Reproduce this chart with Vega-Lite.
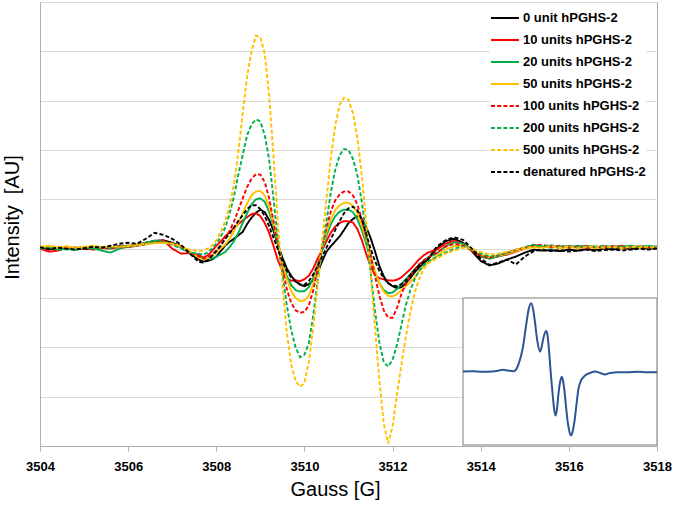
{
"$schema":"https://vega.github.io/schema/vega-lite/v6.json",
"width":617,"height":444,
"autosize":{"type":"none"},
"padding":{"left":40,"top":2,"right":18,"bottom":65},
"config":{"view":{"stroke":"#b0b0b0","strokeWidth":1},"font":"Liberation Sans"},
"datasets":{
"names":[{"s":"a","name":"0 unit hPGHS-2"},{"s":"b","name":"10 units hPGHS-2"},{"s":"c","name":"20 units hPGHS-2"},{"s":"d","name":"50 units hPGHS-2"},{"s":"e","name":"100 units hPGHS-2"},{"s":"f","name":"200 units hPGHS-2"},{"s":"g","name":"500 units hPGHS-2"},{"s":"h","name":"denatured hPGHS-2"}],
"box":[{"x0":0,"x1":100,"y0":-1,"y1":1}],
"inset":[{"ix":0,"iv":0},{"ix":5,"iv":0.005},{"ix":10,"iv":-0.005},{"ix":15,"iv":0},{"ix":18,"iv":0.01},{"ix":20.8,"iv":0.023},{"ix":23,"iv":0.015},{"ix":26,"iv":0.005},{"ix":27.5,"iv":0.03},{"ix":28.6,"iv":0.1},{"ix":30,"iv":0.22},{"ix":31.2,"iv":0.38},{"ix":32,"iv":0.53},{"ix":32.8,"iv":0.68},{"ix":33.8,"iv":0.84},{"ix":35.1,"iv":0.93},{"ix":36.2,"iv":0.84},{"ix":37.1,"iv":0.67},{"ix":38.3,"iv":0.42},{"ix":39.7,"iv":0.27},{"ix":40.5,"iv":0.33},{"ix":41.4,"iv":0.45},{"ix":42.8,"iv":0.55},{"ix":43.5,"iv":0.5},{"ix":44,"iv":0.39},{"ix":44.6,"iv":0.2},{"ix":45.2,"iv":-0.01},{"ix":46,"iv":-0.25},{"ix":46.6,"iv":-0.42},{"ix":47.2,"iv":-0.55},{"ix":47.8,"iv":-0.6},{"ix":48.5,"iv":-0.5},{"ix":49.1,"iv":-0.33},{"ix":50,"iv":-0.15},{"ix":50.9,"iv":-0.07},{"ix":51.6,"iv":-0.13},{"ix":52.2,"iv":-0.24},{"ix":53,"iv":-0.45},{"ix":53.8,"iv":-0.65},{"ix":54.7,"iv":-0.8},{"ix":55.7,"iv":-0.87},{"ix":56.5,"iv":-0.82},{"ix":57.4,"iv":-0.69},{"ix":58.4,"iv":-0.47},{"ix":59.5,"iv":-0.24},{"ix":60.7,"iv":-0.13},{"ix":62,"iv":-0.08},{"ix":63.7,"iv":-0.04},{"ix":65.5,"iv":-0.02},{"ix":68.1,"iv":0},{"ix":70.7,"iv":-0.02},{"ix":73.2,"iv":-0.04},{"ix":75.8,"iv":-0.02},{"ix":80,"iv":-0.01},{"ix":84.4,"iv":-0.01},{"ix":90,"iv":-0.005},{"ix":95,"iv":-0.01},{"ix":100,"iv":-0.01}],
"spec":[
{"x":3504,"s":"a","v":0.02},{"x":3504.2,"s":"a","v":0},{"x":3504.4,"s":"a","v":-0.03},{"x":3504.6,"s":"a","v":0.01},{"x":3504.8,"s":"a","v":0.02},{"x":3505,"s":"a","v":-0.01},{"x":3505.2,"s":"a","v":0},{"x":3505.4,"s":"a","v":0.03},{"x":3505.6,"s":"a","v":0.02},{"x":3505.8,"s":"a","v":0.05},{"x":3506,"s":"a","v":0.06},{"x":3506.2,"s":"a","v":0.08},{"x":3506.4,"s":"a","v":0.12},{"x":3506.6,"s":"a","v":0.16},{"x":3506.8,"s":"a","v":0.17},{"x":3507,"s":"a","v":0.12},{"x":3507.2,"s":"a","v":0.05},{"x":3507.4,"s":"a","v":-0.1},
{"x":3507.6,"s":"a","v":-0.22},{"x":3507.7,"s":"a","v":-0.26},{"x":3507.8,"s":"a","v":-0.25},{"x":3507.9,"s":"a","v":-0.22},{"x":3508,"s":"a","v":-0.16},{"x":3508.1,"s":"a","v":-0.05},{"x":3508.2,"s":"a","v":0.06},{"x":3508.3,"s":"a","v":0.14},{"x":3508.4,"s":"a","v":0.2},{"x":3508.5,"s":"a","v":0.27},{"x":3508.6,"s":"a","v":0.34},{"x":3508.7,"s":"a","v":0.5},{"x":3508.8,"s":"a","v":0.63},{"x":3508.9,"s":"a","v":0.73},{"x":3509,"s":"a","v":0.79},{"x":3509.1,"s":"a","v":0.74},{"x":3509.2,"s":"a","v":0.58},{"x":3509.3,"s":"a","v":0.36},{"x":3509.4,"s":"a","v":0.08},{"x":3509.5,"s":"a","v":-0.18},{"x":3509.6,"s":"a","v":-0.4},{"x":3509.7,"s":"a","v":-0.55},{"x":3509.8,"s":"a","v":-0.66},{"x":3509.9,"s":"a","v":-0.73},{"x":3510,"s":"a","v":-0.76},{"x":3510.1,"s":"a","v":-0.72},{"x":3510.2,"s":"a","v":-0.64},{"x":3510.3,"s":"a","v":-0.48},{"x":3510.4,"s":"a","v":-0.26},{"x":3510.5,"s":"a","v":-0.06},{"x":3510.6,"s":"a","v":0.05},{"x":3510.7,"s":"a","v":0.15},{"x":3510.8,"s":"a","v":0.25},{"x":3510.9,"s":"a","v":0.38},{"x":3511,"s":"a","v":0.52},{"x":3511.1,"s":"a","v":0.6},{"x":3511.2,"s":"a","v":0.66},{"x":3511.3,"s":"a","v":0.6},{"x":3511.4,"s":"a","v":0.44},{"x":3511.5,"s":"a","v":0.22},{"x":3511.6,"s":"a","v":-0.05},{"x":3511.7,"s":"a","v":-0.35},{"x":3511.8,"s":"a","v":-0.56},{"x":3511.9,"s":"a","v":-0.7},{"x":3512,"s":"a","v":-0.76},{"x":3512.1,"s":"a","v":-0.8},{"x":3512.2,"s":"a","v":-0.78},{"x":3512.3,"s":"a","v":-0.7},{"x":3512.4,"s":"a","v":-0.6},{"x":3512.5,"s":"a","v":-0.48},{"x":3512.6,"s":"a","v":-0.38},{"x":3512.7,"s":"a","v":-0.3},{"x":3512.8,"s":"a","v":-0.22},
{"x":3513,"s":"a","v":0},{"x":3513.2,"s":"a","v":0.15},{"x":3513.4,"s":"a","v":0.2},{"x":3513.6,"s":"a","v":0.12},{"x":3513.8,"s":"a","v":-0.05},{"x":3514,"s":"a","v":-0.25},{"x":3514.2,"s":"a","v":-0.34},{"x":3514.4,"s":"a","v":-0.3},{"x":3514.6,"s":"a","v":-0.22},{"x":3514.8,"s":"a","v":-0.16},{"x":3515,"s":"a","v":-0.08},{"x":3515.2,"s":"a","v":-0.02},{"x":3515.4,"s":"a","v":-0.04},{"x":3515.6,"s":"a","v":-0.03},{"x":3515.8,"s":"a","v":-0.05},{"x":3516,"s":"a","v":-0.02},{"x":3516.2,"s":"a","v":-0.04},{"x":3516.4,"s":"a","v":-0.01},{"x":3516.6,"s":"a","v":-0.03},{"x":3516.8,"s":"a","v":0},{"x":3517,"s":"a","v":-0.02},{"x":3517.2,"s":"a","v":0.01},{"x":3517.4,"s":"a","v":-0.01},{"x":3517.6,"s":"a","v":0.02},{"x":3517.8,"s":"a","v":0},{"x":3518,"s":"a","v":0.01},
{"x":3504,"s":"b","v":0},{"x":3504.2,"s":"b","v":-0.06},{"x":3504.4,"s":"b","v":-0.04},{"x":3504.6,"s":"b","v":0.02},{"x":3504.8,"s":"b","v":0},{"x":3505,"s":"b","v":0.03},{"x":3505.2,"s":"b","v":-0.02},{"x":3505.4,"s":"b","v":0.01},{"x":3505.6,"s":"b","v":0},{"x":3505.8,"s":"b","v":0.04},{"x":3506,"s":"b","v":0.03},{"x":3506.2,"s":"b","v":0.06},{"x":3506.4,"s":"b","v":0.09},{"x":3506.6,"s":"b","v":0.13},{"x":3506.8,"s":"b","v":0.17},{"x":3507,"s":"b","v":0},{"x":3507.2,"s":"b","v":-0.1},{"x":3507.4,"s":"b","v":-0.09},
{"x":3507.6,"s":"b","v":-0.12},{"x":3507.7,"s":"b","v":-0.18},{"x":3507.8,"s":"b","v":-0.14},{"x":3507.9,"s":"b","v":-0.05},{"x":3508,"s":"b","v":0.06},{"x":3508.1,"s":"b","v":0.15},{"x":3508.2,"s":"b","v":0.25},{"x":3508.3,"s":"b","v":0.33},{"x":3508.4,"s":"b","v":0.42},{"x":3508.5,"s":"b","v":0.5},{"x":3508.6,"s":"b","v":0.57},{"x":3508.7,"s":"b","v":0.64},{"x":3508.8,"s":"b","v":0.7},{"x":3508.9,"s":"b","v":0.72},{"x":3509,"s":"b","v":0.66},{"x":3509.1,"s":"b","v":0.52},{"x":3509.2,"s":"b","v":0.32},{"x":3509.3,"s":"b","v":0.05},{"x":3509.4,"s":"b","v":-0.24},{"x":3509.5,"s":"b","v":-0.45},{"x":3509.6,"s":"b","v":-0.6},{"x":3509.7,"s":"b","v":-0.65},{"x":3509.8,"s":"b","v":-0.64},{"x":3509.9,"s":"b","v":-0.66},{"x":3510,"s":"b","v":-0.62},{"x":3510.1,"s":"b","v":-0.55},{"x":3510.2,"s":"b","v":-0.4},{"x":3510.3,"s":"b","v":-0.2},{"x":3510.4,"s":"b","v":-0.03},{"x":3510.5,"s":"b","v":0.15},{"x":3510.6,"s":"b","v":0.33},{"x":3510.7,"s":"b","v":0.45},{"x":3510.8,"s":"b","v":0.52},{"x":3510.9,"s":"b","v":0.56},{"x":3511,"s":"b","v":0.55},{"x":3511.1,"s":"b","v":0.53},{"x":3511.2,"s":"b","v":0.4},{"x":3511.3,"s":"b","v":0.18},{"x":3511.4,"s":"b","v":-0.1},{"x":3511.5,"s":"b","v":-0.35},{"x":3511.6,"s":"b","v":-0.53},{"x":3511.7,"s":"b","v":-0.6},{"x":3511.8,"s":"b","v":-0.62},{"x":3511.9,"s":"b","v":-0.64},{"x":3512,"s":"b","v":-0.65},{"x":3512.1,"s":"b","v":-0.63},{"x":3512.2,"s":"b","v":-0.58},{"x":3512.3,"s":"b","v":-0.5},{"x":3512.4,"s":"b","v":-0.42},{"x":3512.5,"s":"b","v":-0.32},{"x":3512.6,"s":"b","v":-0.22},{"x":3512.7,"s":"b","v":-0.14},{"x":3512.8,"s":"b","v":-0.08},
{"x":3513,"s":"b","v":-0.02},{"x":3513.2,"s":"b","v":0.1},{"x":3513.4,"s":"b","v":0.16},{"x":3513.6,"s":"b","v":0.1},{"x":3513.8,"s":"b","v":-0.04},{"x":3514,"s":"b","v":-0.16},{"x":3514.2,"s":"b","v":-0.2},{"x":3514.4,"s":"b","v":-0.15},{"x":3514.6,"s":"b","v":-0.12},{"x":3514.8,"s":"b","v":-0.06},{"x":3515,"s":"b","v":0},{"x":3515.2,"s":"b","v":0.08},{"x":3515.4,"s":"b","v":0.03},{"x":3515.6,"s":"b","v":0.06},{"x":3515.8,"s":"b","v":0.01},{"x":3516,"s":"b","v":0.05},{"x":3516.2,"s":"b","v":0.03},{"x":3516.4,"s":"b","v":0.06},{"x":3516.6,"s":"b","v":0.02},{"x":3516.8,"s":"b","v":0.05},{"x":3517,"s":"b","v":0.03},{"x":3517.2,"s":"b","v":0.06},{"x":3517.4,"s":"b","v":0.02},{"x":3517.6,"s":"b","v":0.05},{"x":3517.8,"s":"b","v":0.03},{"x":3518,"s":"b","v":0.04},
{"x":3504,"s":"c","v":0.01},{"x":3504.2,"s":"c","v":0.03},{"x":3504.4,"s":"c","v":-0.02},{"x":3504.6,"s":"c","v":0},{"x":3504.8,"s":"c","v":-0.03},{"x":3505,"s":"c","v":0.02},{"x":3505.2,"s":"c","v":0.01},{"x":3505.4,"s":"c","v":-0.04},{"x":3505.6,"s":"c","v":-0.08},{"x":3505.8,"s":"c","v":0},{"x":3506,"s":"c","v":0.04},{"x":3506.2,"s":"c","v":0.07},{"x":3506.4,"s":"c","v":0.12},{"x":3506.6,"s":"c","v":0.16},{"x":3506.8,"s":"c","v":0.14},{"x":3507,"s":"c","v":0.1},{"x":3507.2,"s":"c","v":0.03},{"x":3507.4,"s":"c","v":-0.08},
{"x":3507.6,"s":"c","v":-0.15},{"x":3507.7,"s":"c","v":-0.2},{"x":3507.8,"s":"c","v":-0.22},{"x":3507.9,"s":"c","v":-0.2},{"x":3508,"s":"c","v":-0.16},{"x":3508.1,"s":"c","v":-0.12},{"x":3508.2,"s":"c","v":-0.07},{"x":3508.3,"s":"c","v":0.03},{"x":3508.4,"s":"c","v":0.15},{"x":3508.5,"s":"c","v":0.32},{"x":3508.6,"s":"c","v":0.52},{"x":3508.7,"s":"c","v":0.72},{"x":3508.8,"s":"c","v":0.9},{"x":3508.9,"s":"c","v":1},{"x":3509,"s":"c","v":1.02},{"x":3509.1,"s":"c","v":0.95},{"x":3509.2,"s":"c","v":0.75},{"x":3509.3,"s":"c","v":0.45},{"x":3509.4,"s":"c","v":0.08},{"x":3509.5,"s":"c","v":-0.28},{"x":3509.6,"s":"c","v":-0.55},{"x":3509.7,"s":"c","v":-0.74},{"x":3509.8,"s":"c","v":-0.84},{"x":3509.9,"s":"c","v":-0.87},{"x":3510,"s":"c","v":-0.86},{"x":3510.1,"s":"c","v":-0.78},{"x":3510.2,"s":"c","v":-0.6},{"x":3510.3,"s":"c","v":-0.32},{"x":3510.4,"s":"c","v":-0.02},{"x":3510.5,"s":"c","v":0.26},{"x":3510.6,"s":"c","v":0.5},{"x":3510.7,"s":"c","v":0.66},{"x":3510.8,"s":"c","v":0.75},{"x":3510.9,"s":"c","v":0.79},{"x":3511,"s":"c","v":0.79},{"x":3511.1,"s":"c","v":0.74},{"x":3511.2,"s":"c","v":0.6},{"x":3511.3,"s":"c","v":0.38},{"x":3511.4,"s":"c","v":0.1},{"x":3511.5,"s":"c","v":-0.2},{"x":3511.6,"s":"c","v":-0.48},{"x":3511.7,"s":"c","v":-0.7},{"x":3511.8,"s":"c","v":-0.84},{"x":3511.9,"s":"c","v":-0.9},{"x":3512,"s":"c","v":-0.89},{"x":3512.1,"s":"c","v":-0.82},{"x":3512.2,"s":"c","v":-0.72},{"x":3512.3,"s":"c","v":-0.62},{"x":3512.4,"s":"c","v":-0.52},{"x":3512.5,"s":"c","v":-0.42},{"x":3512.6,"s":"c","v":-0.33},{"x":3512.7,"s":"c","v":-0.25},{"x":3512.8,"s":"c","v":-0.18},
{"x":3513,"s":"c","v":-0.1},{"x":3513.2,"s":"c","v":0.05},{"x":3513.4,"s":"c","v":0.13},{"x":3513.6,"s":"c","v":0.1},{"x":3513.8,"s":"c","v":-0.02},{"x":3514,"s":"c","v":-0.15},{"x":3514.2,"s":"c","v":-0.2},{"x":3514.4,"s":"c","v":-0.16},{"x":3514.6,"s":"c","v":-0.1},{"x":3514.8,"s":"c","v":-0.05},{"x":3515,"s":"c","v":0.02},{"x":3515.2,"s":"c","v":0.07},{"x":3515.4,"s":"c","v":0.04},{"x":3515.6,"s":"c","v":0.02},{"x":3515.8,"s":"c","v":0.05},{"x":3516,"s":"c","v":0.02},{"x":3516.2,"s":"c","v":0.06},{"x":3516.4,"s":"c","v":0.03},{"x":3516.6,"s":"c","v":0.05},{"x":3516.8,"s":"c","v":0.02},{"x":3517,"s":"c","v":0.05},{"x":3517.2,"s":"c","v":0.03},{"x":3517.4,"s":"c","v":0.06},{"x":3517.6,"s":"c","v":0.03},{"x":3517.8,"s":"c","v":0.05},{"x":3518,"s":"c","v":0.04},
{"x":3504,"s":"d","v":0.03},{"x":3504.2,"s":"d","v":0.05},{"x":3504.4,"s":"d","v":0.02},{"x":3504.6,"s":"d","v":0.04},{"x":3504.8,"s":"d","v":0.01},{"x":3505,"s":"d","v":0.03},{"x":3505.2,"s":"d","v":0.05},{"x":3505.4,"s":"d","v":0.02},{"x":3505.6,"s":"d","v":0.04},{"x":3505.8,"s":"d","v":0.03},{"x":3506,"s":"d","v":0.06},{"x":3506.2,"s":"d","v":0.08},{"x":3506.4,"s":"d","v":0.1},{"x":3506.6,"s":"d","v":0.12},{"x":3506.8,"s":"d","v":0.12},{"x":3507,"s":"d","v":0.1},{"x":3507.2,"s":"d","v":0.04},{"x":3507.4,"s":"d","v":-0.06},
{"x":3507.6,"s":"d","v":-0.18},{"x":3507.7,"s":"d","v":-0.22},{"x":3507.8,"s":"d","v":-0.2},{"x":3507.9,"s":"d","v":-0.15},{"x":3508,"s":"d","v":-0.08},{"x":3508.1,"s":"d","v":0},{"x":3508.2,"s":"d","v":0.08},{"x":3508.3,"s":"d","v":0.2},{"x":3508.4,"s":"d","v":0.35},{"x":3508.5,"s":"d","v":0.52},{"x":3508.6,"s":"d","v":0.72},{"x":3508.7,"s":"d","v":0.92},{"x":3508.8,"s":"d","v":1.08},{"x":3508.9,"s":"d","v":1.16},{"x":3509,"s":"d","v":1.17},{"x":3509.1,"s":"d","v":1.08},{"x":3509.2,"s":"d","v":0.85},{"x":3509.3,"s":"d","v":0.5},{"x":3509.4,"s":"d","v":0.1},{"x":3509.5,"s":"d","v":-0.3},{"x":3509.6,"s":"d","v":-0.62},{"x":3509.7,"s":"d","v":-0.86},{"x":3509.8,"s":"d","v":-1},{"x":3509.9,"s":"d","v":-1.06},{"x":3510,"s":"d","v":-1.05},{"x":3510.1,"s":"d","v":-0.95},{"x":3510.2,"s":"d","v":-0.72},{"x":3510.3,"s":"d","v":-0.38},{"x":3510.4,"s":"d","v":0},{"x":3510.5,"s":"d","v":0.33},{"x":3510.6,"s":"d","v":0.6},{"x":3510.7,"s":"d","v":0.78},{"x":3510.8,"s":"d","v":0.88},{"x":3510.9,"s":"d","v":0.93},{"x":3511,"s":"d","v":0.93},{"x":3511.1,"s":"d","v":0.87},{"x":3511.2,"s":"d","v":0.72},{"x":3511.3,"s":"d","v":0.48},{"x":3511.4,"s":"d","v":0.18},{"x":3511.5,"s":"d","v":-0.15},{"x":3511.6,"s":"d","v":-0.45},{"x":3511.7,"s":"d","v":-0.7},{"x":3511.8,"s":"d","v":-0.87},{"x":3511.9,"s":"d","v":-0.96},{"x":3512,"s":"d","v":-0.97},{"x":3512.1,"s":"d","v":-0.92},{"x":3512.2,"s":"d","v":-0.84},{"x":3512.3,"s":"d","v":-0.76},{"x":3512.4,"s":"d","v":-0.68},{"x":3512.5,"s":"d","v":-0.58},{"x":3512.6,"s":"d","v":-0.46},{"x":3512.7,"s":"d","v":-0.36},{"x":3512.8,"s":"d","v":-0.28},
{"x":3513,"s":"d","v":-0.15},{"x":3513.2,"s":"d","v":-0.02},{"x":3513.4,"s":"d","v":0.05},{"x":3513.6,"s":"d","v":0.06},{"x":3513.8,"s":"d","v":-0.02},{"x":3514,"s":"d","v":-0.12},{"x":3514.2,"s":"d","v":-0.17},{"x":3514.4,"s":"d","v":-0.14},{"x":3514.6,"s":"d","v":-0.1},{"x":3514.8,"s":"d","v":-0.05},{"x":3515,"s":"d","v":0},{"x":3515.2,"s":"d","v":0.03},{"x":3515.4,"s":"d","v":0.02},{"x":3515.6,"s":"d","v":0.04},{"x":3515.8,"s":"d","v":0.01},{"x":3516,"s":"d","v":0.03},{"x":3516.2,"s":"d","v":0.02},{"x":3516.4,"s":"d","v":0.04},{"x":3516.6,"s":"d","v":0.01},{"x":3516.8,"s":"d","v":0.03},{"x":3517,"s":"d","v":0.04},{"x":3517.2,"s":"d","v":0.02},{"x":3517.4,"s":"d","v":0.03},{"x":3517.6,"s":"d","v":0.05},{"x":3517.8,"s":"d","v":0.02},{"x":3518,"s":"d","v":0.03},
{"x":3504,"s":"e","v":0.01},{"x":3504.2,"s":"e","v":-0.02},{"x":3504.4,"s":"e","v":0.03},{"x":3504.6,"s":"e","v":0},{"x":3504.8,"s":"e","v":0.02},{"x":3505,"s":"e","v":0},{"x":3505.2,"s":"e","v":0.03},{"x":3505.4,"s":"e","v":0.01},{"x":3505.6,"s":"e","v":0.03},{"x":3505.8,"s":"e","v":0.02},{"x":3506,"s":"e","v":0.05},{"x":3506.2,"s":"e","v":0.07},{"x":3506.4,"s":"e","v":0.1},{"x":3506.6,"s":"e","v":0.13},{"x":3506.8,"s":"e","v":0.14},{"x":3507,"s":"e","v":0.1},{"x":3507.2,"s":"e","v":0.02},{"x":3507.4,"s":"e","v":-0.08},
{"x":3507.6,"s":"e","v":-0.15},{"x":3507.7,"s":"e","v":-0.2},{"x":3507.8,"s":"e","v":-0.18},{"x":3507.9,"s":"e","v":-0.12},{"x":3508,"s":"e","v":-0.04},{"x":3508.1,"s":"e","v":0.07},{"x":3508.2,"s":"e","v":0.19},{"x":3508.3,"s":"e","v":0.36},{"x":3508.4,"s":"e","v":0.55},{"x":3508.5,"s":"e","v":0.78},{"x":3508.6,"s":"e","v":1.02},{"x":3508.7,"s":"e","v":1.25},{"x":3508.8,"s":"e","v":1.42},{"x":3508.9,"s":"e","v":1.51},{"x":3509,"s":"e","v":1.5},{"x":3509.1,"s":"e","v":1.35},{"x":3509.2,"s":"e","v":1.02},{"x":3509.3,"s":"e","v":0.55},{"x":3509.4,"s":"e","v":0.05},{"x":3509.5,"s":"e","v":-0.42},{"x":3509.6,"s":"e","v":-0.82},{"x":3509.7,"s":"e","v":-1.1},{"x":3509.8,"s":"e","v":-1.25},{"x":3509.9,"s":"e","v":-1.3},{"x":3510,"s":"e","v":-1.28},{"x":3510.1,"s":"e","v":-1.15},{"x":3510.2,"s":"e","v":-0.85},{"x":3510.3,"s":"e","v":-0.42},{"x":3510.4,"s":"e","v":0.02},{"x":3510.5,"s":"e","v":0.42},{"x":3510.6,"s":"e","v":0.76},{"x":3510.7,"s":"e","v":0.98},{"x":3510.8,"s":"e","v":1.1},{"x":3510.9,"s":"e","v":1.16},{"x":3511,"s":"e","v":1.16},{"x":3511.1,"s":"e","v":1.08},{"x":3511.2,"s":"e","v":0.9},{"x":3511.3,"s":"e","v":0.6},{"x":3511.4,"s":"e","v":0.25},{"x":3511.5,"s":"e","v":-0.12},{"x":3511.6,"s":"e","v":-0.55},{"x":3511.7,"s":"e","v":-0.95},{"x":3511.8,"s":"e","v":-1.25},{"x":3511.9,"s":"e","v":-1.4},{"x":3512,"s":"e","v":-1.4},{"x":3512.1,"s":"e","v":-1.2},{"x":3512.2,"s":"e","v":-0.92},{"x":3512.3,"s":"e","v":-0.72},{"x":3512.4,"s":"e","v":-0.56},{"x":3512.5,"s":"e","v":-0.43},{"x":3512.6,"s":"e","v":-0.32},{"x":3512.7,"s":"e","v":-0.24},{"x":3512.8,"s":"e","v":-0.18},
{"x":3513,"s":"e","v":-0.08},{"x":3513.2,"s":"e","v":0.04},{"x":3513.4,"s":"e","v":0.1},{"x":3513.6,"s":"e","v":0.06},{"x":3513.8,"s":"e","v":-0.04},{"x":3514,"s":"e","v":-0.14},{"x":3514.2,"s":"e","v":-0.18},{"x":3514.4,"s":"e","v":-0.14},{"x":3514.6,"s":"e","v":-0.08},{"x":3514.8,"s":"e","v":-0.03},{"x":3515,"s":"e","v":0.02},{"x":3515.2,"s":"e","v":0.06},{"x":3515.4,"s":"e","v":0.08},{"x":3515.6,"s":"e","v":0.03},{"x":3515.8,"s":"e","v":0.06},{"x":3516,"s":"e","v":0.02},{"x":3516.2,"s":"e","v":0.04},{"x":3516.4,"s":"e","v":0.01},{"x":3516.6,"s":"e","v":0.04},{"x":3516.8,"s":"e","v":0.02},{"x":3517,"s":"e","v":0.05},{"x":3517.2,"s":"e","v":0.02},{"x":3517.4,"s":"e","v":0.04},{"x":3517.6,"s":"e","v":0.01},{"x":3517.8,"s":"e","v":0.03},{"x":3518,"s":"e","v":0.02},
{"x":3504,"s":"f","v":0},{"x":3504.2,"s":"f","v":0.02},{"x":3504.4,"s":"f","v":0.01},{"x":3504.6,"s":"f","v":-0.02},{"x":3504.8,"s":"f","v":0.01},{"x":3505,"s":"f","v":0.03},{"x":3505.2,"s":"f","v":0},{"x":3505.4,"s":"f","v":0.02},{"x":3505.6,"s":"f","v":0.01},{"x":3505.8,"s":"f","v":0.04},{"x":3506,"s":"f","v":0.05},{"x":3506.2,"s":"f","v":0.06},{"x":3506.4,"s":"f","v":0.1},{"x":3506.6,"s":"f","v":0.13},{"x":3506.8,"s":"f","v":0.13},{"x":3507,"s":"f","v":0.08},{"x":3507.2,"s":"f","v":0},{"x":3507.4,"s":"f","v":-0.08},
{"x":3507.6,"s":"f","v":-0.1},{"x":3507.7,"s":"f","v":-0.12},{"x":3507.8,"s":"f","v":-0.08},{"x":3507.9,"s":"f","v":0},{"x":3508,"s":"f","v":0.1},{"x":3508.1,"s":"f","v":0.24},{"x":3508.2,"s":"f","v":0.42},{"x":3508.3,"s":"f","v":0.7},{"x":3508.4,"s":"f","v":1.05},{"x":3508.5,"s":"f","v":1.5},{"x":3508.6,"s":"f","v":1.9},{"x":3508.7,"s":"f","v":2.3},{"x":3508.8,"s":"f","v":2.52},{"x":3508.9,"s":"f","v":2.62},{"x":3509,"s":"f","v":2.58},{"x":3509.1,"s":"f","v":2.3},{"x":3509.2,"s":"f","v":1.8},{"x":3509.3,"s":"f","v":1},{"x":3509.4,"s":"f","v":0.15},{"x":3509.5,"s":"f","v":-0.5},{"x":3509.6,"s":"f","v":-1.15},{"x":3509.7,"s":"f","v":-1.65},{"x":3509.8,"s":"f","v":-2},{"x":3509.9,"s":"f","v":-2.2},{"x":3510,"s":"f","v":-2.15},{"x":3510.1,"s":"f","v":-1.92},{"x":3510.2,"s":"f","v":-1.35},{"x":3510.3,"s":"f","v":-0.65},{"x":3510.4,"s":"f","v":-0.05},{"x":3510.5,"s":"f","v":0.55},{"x":3510.6,"s":"f","v":1.15},{"x":3510.7,"s":"f","v":1.6},{"x":3510.8,"s":"f","v":1.9},{"x":3510.9,"s":"f","v":2.02},{"x":3511,"s":"f","v":2},{"x":3511.1,"s":"f","v":1.82},{"x":3511.2,"s":"f","v":1.5},{"x":3511.3,"s":"f","v":0.96},{"x":3511.4,"s":"f","v":0.3},{"x":3511.5,"s":"f","v":-0.45},{"x":3511.6,"s":"f","v":-1.25},{"x":3511.7,"s":"f","v":-1.9},{"x":3511.8,"s":"f","v":-2.3},{"x":3511.9,"s":"f","v":-2.39},{"x":3512,"s":"f","v":-2.25},{"x":3512.1,"s":"f","v":-1.95},{"x":3512.2,"s":"f","v":-1.55},{"x":3512.3,"s":"f","v":-1.15},{"x":3512.4,"s":"f","v":-0.85},{"x":3512.5,"s":"f","v":-0.62},{"x":3512.6,"s":"f","v":-0.46},{"x":3512.7,"s":"f","v":-0.34},{"x":3512.8,"s":"f","v":-0.26},
{"x":3513,"s":"f","v":-0.17},{"x":3513.2,"s":"f","v":-0.08},{"x":3513.4,"s":"f","v":0},{"x":3513.6,"s":"f","v":0.04},{"x":3513.8,"s":"f","v":-0.02},{"x":3514,"s":"f","v":-0.1},{"x":3514.2,"s":"f","v":-0.16},{"x":3514.4,"s":"f","v":-0.13},{"x":3514.6,"s":"f","v":-0.08},{"x":3514.8,"s":"f","v":-0.02},{"x":3515,"s":"f","v":0.03},{"x":3515.2,"s":"f","v":0.08},{"x":3515.4,"s":"f","v":0.05},{"x":3515.6,"s":"f","v":0.07},{"x":3515.8,"s":"f","v":0.03},{"x":3516,"s":"f","v":0.06},{"x":3516.2,"s":"f","v":0.02},{"x":3516.4,"s":"f","v":0.05},{"x":3516.6,"s":"f","v":0.03},{"x":3516.8,"s":"f","v":0.06},{"x":3517,"s":"f","v":0.02},{"x":3517.2,"s":"f","v":0.05},{"x":3517.4,"s":"f","v":0.03},{"x":3517.6,"s":"f","v":0.04},{"x":3517.8,"s":"f","v":0.06},{"x":3518,"s":"f","v":0.03},
{"x":3504,"s":"g","v":0.04},{"x":3504.2,"s":"g","v":0.06},{"x":3504.4,"s":"g","v":0.03},{"x":3504.6,"s":"g","v":0.05},{"x":3504.8,"s":"g","v":0.02},{"x":3505,"s":"g","v":0.04},{"x":3505.2,"s":"g","v":0.06},{"x":3505.4,"s":"g","v":0.03},{"x":3505.6,"s":"g","v":0.05},{"x":3505.8,"s":"g","v":0.04},{"x":3506,"s":"g","v":0.05},{"x":3506.2,"s":"g","v":0.07},{"x":3506.4,"s":"g","v":0.09},{"x":3506.6,"s":"g","v":0.11},{"x":3506.8,"s":"g","v":0.12},{"x":3507,"s":"g","v":0.1},{"x":3507.2,"s":"g","v":0.05},{"x":3507.4,"s":"g","v":-0.02},
{"x":3507.6,"s":"g","v":-0.05},{"x":3507.7,"s":"g","v":-0.04},{"x":3507.8,"s":"g","v":0},{"x":3507.9,"s":"g","v":0.06},{"x":3508,"s":"g","v":0.17},{"x":3508.1,"s":"g","v":0.33},{"x":3508.2,"s":"g","v":0.55},{"x":3508.3,"s":"g","v":0.85},{"x":3508.4,"s":"g","v":1.3},{"x":3508.5,"s":"g","v":1.95},{"x":3508.6,"s":"g","v":2.75},{"x":3508.7,"s":"g","v":3.5},{"x":3508.8,"s":"g","v":4},{"x":3508.9,"s":"g","v":4.32},{"x":3509,"s":"g","v":4.28},{"x":3509.1,"s":"g","v":3.95},{"x":3509.2,"s":"g","v":3.1},{"x":3509.3,"s":"g","v":1.85},{"x":3509.4,"s":"g","v":0.5},{"x":3509.5,"s":"g","v":-0.7},{"x":3509.6,"s":"g","v":-1.7},{"x":3509.7,"s":"g","v":-2.35},{"x":3509.8,"s":"g","v":-2.68},{"x":3509.9,"s":"g","v":-2.8},{"x":3510,"s":"g","v":-2.72},{"x":3510.1,"s":"g","v":-2.3},{"x":3510.2,"s":"g","v":-1.6},{"x":3510.3,"s":"g","v":-0.75},{"x":3510.4,"s":"g","v":0.15},{"x":3510.5,"s":"g","v":1},{"x":3510.6,"s":"g","v":1.85},{"x":3510.7,"s":"g","v":2.5},{"x":3510.8,"s":"g","v":2.92},{"x":3510.9,"s":"g","v":3.06},{"x":3511,"s":"g","v":3.02},{"x":3511.1,"s":"g","v":2.75},{"x":3511.2,"s":"g","v":2.25},{"x":3511.3,"s":"g","v":1.5},{"x":3511.4,"s":"g","v":0.55},{"x":3511.5,"s":"g","v":-0.45},{"x":3511.6,"s":"g","v":-1.6},{"x":3511.7,"s":"g","v":-2.65},{"x":3511.8,"s":"g","v":-3.55},{"x":3511.9,"s":"g","v":-3.95},{"x":3512,"s":"g","v":-3.6},{"x":3512.1,"s":"g","v":-2.95},{"x":3512.2,"s":"g","v":-2.35},{"x":3512.3,"s":"g","v":-1.8},{"x":3512.4,"s":"g","v":-1.3},{"x":3512.5,"s":"g","v":-0.9},{"x":3512.6,"s":"g","v":-0.62},{"x":3512.7,"s":"g","v":-0.42},{"x":3512.8,"s":"g","v":-0.3},
{"x":3513,"s":"g","v":-0.2},{"x":3513.2,"s":"g","v":-0.1},{"x":3513.4,"s":"g","v":-0.04},{"x":3513.6,"s":"g","v":0.02},{"x":3513.8,"s":"g","v":0},{"x":3514,"s":"g","v":-0.07},{"x":3514.2,"s":"g","v":-0.12},{"x":3514.4,"s":"g","v":-0.1},{"x":3514.6,"s":"g","v":-0.06},{"x":3514.8,"s":"g","v":-0.02},{"x":3515,"s":"g","v":0.02},{"x":3515.2,"s":"g","v":0.04},{"x":3515.4,"s":"g","v":0.02},{"x":3515.6,"s":"g","v":0.05},{"x":3515.8,"s":"g","v":0.02},{"x":3516,"s":"g","v":0.04},{"x":3516.2,"s":"g","v":0.01},{"x":3516.4,"s":"g","v":0.03},{"x":3516.6,"s":"g","v":0.05},{"x":3516.8,"s":"g","v":0.02},{"x":3517,"s":"g","v":0.04},{"x":3517.2,"s":"g","v":0.01},{"x":3517.4,"s":"g","v":0.04},{"x":3517.6,"s":"g","v":0.02},{"x":3517.8,"s":"g","v":0.04},{"x":3518,"s":"g","v":0.02},
{"x":3504,"s":"h","v":0.03},{"x":3504.2,"s":"h","v":-0.01},{"x":3504.4,"s":"h","v":0.02},{"x":3504.6,"s":"h","v":0},{"x":3504.8,"s":"h","v":-0.02},{"x":3505,"s":"h","v":0.01},{"x":3505.2,"s":"h","v":0.04},{"x":3505.4,"s":"h","v":0.02},{"x":3505.6,"s":"h","v":0.06},{"x":3505.8,"s":"h","v":0.1},{"x":3506,"s":"h","v":0.12},{"x":3506.2,"s":"h","v":0.1},{"x":3506.4,"s":"h","v":0.2},{"x":3506.6,"s":"h","v":0.32},{"x":3506.8,"s":"h","v":0.28},{"x":3507,"s":"h","v":0.2},{"x":3507.2,"s":"h","v":0.08},{"x":3507.4,"s":"h","v":-0.1},
{"x":3507.6,"s":"h","v":-0.27},{"x":3507.7,"s":"h","v":-0.28},{"x":3507.8,"s":"h","v":-0.24},{"x":3507.9,"s":"h","v":-0.15},{"x":3508,"s":"h","v":-0.05},{"x":3508.1,"s":"h","v":0.06},{"x":3508.2,"s":"h","v":0.2},{"x":3508.3,"s":"h","v":0.3},{"x":3508.4,"s":"h","v":0.43},{"x":3508.5,"s":"h","v":0.56},{"x":3508.6,"s":"h","v":0.68},{"x":3508.7,"s":"h","v":0.8},{"x":3508.8,"s":"h","v":0.88},{"x":3508.9,"s":"h","v":0.88},{"x":3509,"s":"h","v":0.8},{"x":3509.1,"s":"h","v":0.66},{"x":3509.2,"s":"h","v":0.45},{"x":3509.3,"s":"h","v":0.22},{"x":3509.4,"s":"h","v":-0.02},{"x":3509.5,"s":"h","v":-0.25},{"x":3509.6,"s":"h","v":-0.45},{"x":3509.7,"s":"h","v":-0.58},{"x":3509.8,"s":"h","v":-0.67},{"x":3509.9,"s":"h","v":-0.72},{"x":3510,"s":"h","v":-0.73},{"x":3510.1,"s":"h","v":-0.66},{"x":3510.2,"s":"h","v":-0.52},{"x":3510.3,"s":"h","v":-0.35},{"x":3510.4,"s":"h","v":-0.16},{"x":3510.5,"s":"h","v":0.02},{"x":3510.6,"s":"h","v":0.2},{"x":3510.7,"s":"h","v":0.38},{"x":3510.8,"s":"h","v":0.56},{"x":3510.9,"s":"h","v":0.72},{"x":3511,"s":"h","v":0.82},{"x":3511.1,"s":"h","v":0.85},{"x":3511.2,"s":"h","v":0.78},{"x":3511.3,"s":"h","v":0.6},{"x":3511.4,"s":"h","v":0.3},{"x":3511.5,"s":"h","v":0},{"x":3511.6,"s":"h","v":-0.25},{"x":3511.7,"s":"h","v":-0.45},{"x":3511.8,"s":"h","v":-0.6},{"x":3511.9,"s":"h","v":-0.7},{"x":3512,"s":"h","v":-0.75},{"x":3512.1,"s":"h","v":-0.76},{"x":3512.2,"s":"h","v":-0.72},{"x":3512.3,"s":"h","v":-0.64},{"x":3512.4,"s":"h","v":-0.54},{"x":3512.5,"s":"h","v":-0.44},{"x":3512.6,"s":"h","v":-0.34},{"x":3512.7,"s":"h","v":-0.27},{"x":3512.8,"s":"h","v":-0.22},
{"x":3513,"s":"h","v":0.04},{"x":3513.2,"s":"h","v":0.17},{"x":3513.4,"s":"h","v":0.23},{"x":3513.6,"s":"h","v":0.18},{"x":3513.8,"s":"h","v":0},{"x":3514,"s":"h","v":-0.2},{"x":3514.2,"s":"h","v":-0.33},{"x":3514.4,"s":"h","v":-0.28},{"x":3514.6,"s":"h","v":-0.22},{"x":3514.8,"s":"h","v":-0.32},{"x":3515,"s":"h","v":-0.16},{"x":3515.2,"s":"h","v":-0.05},{"x":3515.4,"s":"h","v":-0.02},{"x":3515.6,"s":"h","v":-0.05},{"x":3515.8,"s":"h","v":-0.03},{"x":3516,"s":"h","v":-0.06},{"x":3516.2,"s":"h","v":-0.04},{"x":3516.4,"s":"h","v":-0.02},{"x":3516.6,"s":"h","v":-0.05},{"x":3516.8,"s":"h","v":-0.03},{"x":3517,"s":"h","v":-0.01},{"x":3517.2,"s":"h","v":-0.04},{"x":3517.4,"s":"h","v":-0.02},{"x":3517.6,"s":"h","v":0},{"x":3517.8,"s":"h","v":-0.02},{"x":3518,"s":"h","v":0}
]},
"layer":[
{"data":{"name":"spec"},
 "transform":[{"lookup":"s","from":{"data":{"name":"names"},"key":"s","fields":["name"]}}],
 "mark":{"type":"line","strokeWidth":1.9},
 "encoding":{
  "x":{"field":"x","type":"quantitative","scale":{"domain":[3504,3518],"nice":false,"zero":false},
       "axis":{"values":[3504,3506,3508,3510,3512,3514,3516,3518],"format":"d","grid":false,"title":"Gauss [G]","titleFontSize":20,"titleFontWeight":"normal","titleColor":"#000000","titleFont":"Liberation Sans","titlePadding":6,"titleX":295,"labelFont":"Liberation Sans","labelFontSize":13,"labelFontWeight":"bold","labelColor":"#000000","labelPadding":9,"labelFlush":false,"tickColor":"#b0b0b0","tickSize":5,"domainColor":"#b0b0b0"}},
  "y":{"field":"v","type":"quantitative","scale":{"domain":[-4,5],"nice":false,"zero":false},
       "axis":{"values":[-4,-3,-2,-1,0,1,2,3,4,5],"labels":false,"ticks":false,"grid":true,"gridColor":"#d9d9d9","gridWidth":1,"domainColor":"#b0b0b0","title":"Intensity \u00a0[AU]","titleFontSize":20,"titleFontWeight":"normal","titleColor":"#000000","titleFont":"Liberation Sans","titlePadding":18,"titleY":215}},
  "color":{"field":"name","type":"nominal",
    "scale":{"domain":["0 unit hPGHS-2","10 units hPGHS-2","20 units hPGHS-2","50 units hPGHS-2","100 units hPGHS-2","200 units hPGHS-2","500 units hPGHS-2","denatured hPGHS-2"],"range":["#000000","#ff0000","#00b050","#ffc000","#ff0000","#00b050","#ffc000","#000000"]},
    "legend":{"title":null,"orient":"none","legendX":450,"legendY":1,"symbolType":"stroke","symbolSize":784,"symbolStrokeWidth":2,"labelFont":"Liberation Sans","labelFontSize":13,"labelFontWeight":"bold","labelColor":"#000000","labelOffset":3,"padding":0,"rowPadding":-6.2,"fillColor":"#ffffff"}},
  "strokeDash":{"field":"name","type":"nominal",
    "scale":{"domain":["0 unit hPGHS-2","10 units hPGHS-2","20 units hPGHS-2","50 units hPGHS-2","100 units hPGHS-2","200 units hPGHS-2","500 units hPGHS-2","denatured hPGHS-2"],"range":[[1,0],[1,0],[1,0],[1,0],[4,2.2],[4,2.2],[4,2.2],[4,2.2]]},
    "legend":{"title":null,"orient":"none","legendX":450,"legendY":1,"symbolType":"stroke","symbolSize":784,"symbolStrokeWidth":2,"labelFont":"Liberation Sans","labelFontSize":13,"labelFontWeight":"bold","labelColor":"#000000","labelOffset":3,"padding":0,"rowPadding":-6.2,"fillColor":"#ffffff"}}
 }},
{"layer":[
 {"data":{"name":"box"},"mark":{"type":"rect","fill":"#ffffff","stroke":"#a6a6a6","strokeWidth":1.5},
  "encoding":{"x":{"field":"x0","type":"quantitative","scale":{"domain":[0,100],"range":[423,617]},"axis":null},"x2":{"field":"x1"},
              "y":{"field":"y0","type":"quantitative","scale":{"domain":[-1,1],"range":[443,296]},"axis":null},"y2":{"field":"y1"}}},
 {"data":{"name":"inset"},"mark":{"type":"line","color":"#2c5596","strokeWidth":2,"interpolate":"monotone"},
  "encoding":{"x":{"field":"ix","type":"quantitative","axis":null},"y":{"field":"iv","type":"quantitative","axis":null}}}
]}
],
"resolve":{"scale":{"x":"independent","y":"independent"}}
}
